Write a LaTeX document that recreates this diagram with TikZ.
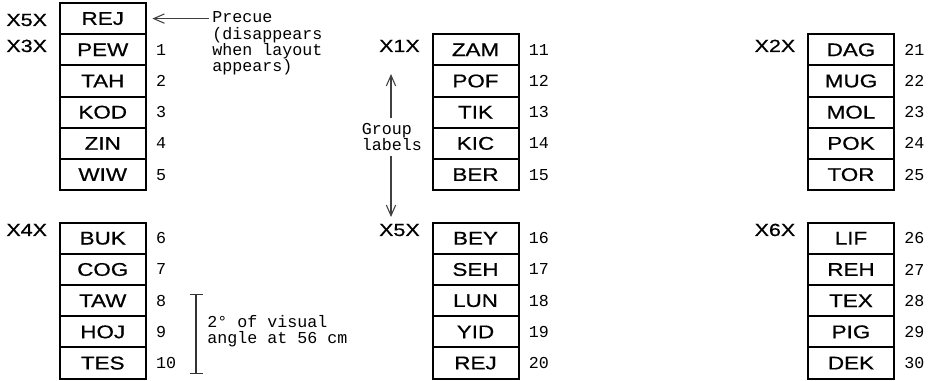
\documentclass[tikz,border=0pt]{standalone}
\usepackage{fontspec}
\setmainfont{Liberation Sans}
\newfontfamily\wordfont[FakeStretch=1.22, FakeBold=0.6]{Liberation Sans}
\newfontfamily\notefont{Liberation Mono}
\usetikzlibrary{arrows.meta, positioning}
\tikzset{
  wordcell/.style={
    rectangle, draw=black, line width=1.5pt, minimum width=64.5pt,
    minimum height=23.4pt, inner sep=0pt, outer sep=0pt,
    font=\wordfont\fontsize{13.8pt}{16pt}\selectfont
  },
  itemnum/.style={inner sep=0pt, font=\notefont\fontsize{12.5pt}{12pt}\selectfont},
  grplbl/.style={inner sep=0pt, font=\wordfont\fontsize{13.2pt}{15pt}\selectfont},
  notetext/.style={
    inner sep=0pt, align=left,
    font=\notefont\fontsize{12.5pt}{12.2pt}\selectfont
  },
  notearrow/.style={-{Straight Barb[length=8pt, width=7pt]}, line width=0.8pt, draw=black!75},
  scalebar/.style={{Bar[width=9.75pt]}-{Bar[width=9.75pt]}, line width=1pt, draw=black!80}
}
\begin{document}
\begin{tikzpicture}[x=0.75pt, y=-0.75pt]
  \useasboundingbox (0,0) rectangle (933,381);
  % word columns, one per group
  \foreach \col/\cx/\ctop/\first/\lbl/\lbly/\words in {
      A/102.75/34.2/1/X3X/52/{PEW,TAH,KOD,ZIN,WIW},
      B/102.75/222.7/6/X4X/236/{BUK,COG,TAW,HOJ,TES},
      C/475.5/34.2/11/X1X/52/{ZAM,POF,TIK,KIC,BER},
      D/475.5/222.7/16/X5X/236/{BEY,SEH,LUN,YID,REJ},
      E/851/34.2/21/X2X/52/{DAG,MUG,MOL,POK,TOR},
      F/851/222.7/26/X6X/236/{LIF,REH,TEX,PIG,DEK}}
  {
    \foreach \w [count=\i] in \words {
      \pgfmathtruncatemacro\n{\first+\i-1}
      \node[wordcell] (\col\i) at (\cx,{\ctop+15.6+31.2*(\i-1)}) {\w};
      \node[itemnum, right=7.5pt of \col\i] (n\n) {\n};
    }
    \node[grplbl, anchor=base east] (lbl\col) at (\cx-55.5,\lbly) {\lbl};
  }

  % precue above the first column
  \node[wordcell, above=0pt of A1] (cue) {REJ};
  \node[grplbl, anchor=base east] (lblcue) at (47.25,26) {X5X};
  \node[notetext, anchor=north west, inner xsep=2.25pt] (precue) at (209,11.5)
    {Precue\\(disappears\\when layout\\appears)};
  \draw[notearrow, shorten >=5pt] (precue.west |- cue.east) -- (cue.east);

  % group label note
  \node[notetext, inner ysep=3.75pt] (grp) at (392,136.75) {Group\\labels};
  \coordinate (grpup) at (391,74);
  \coordinate (grpdown) at (391,217);
  \draw[notearrow] (grp.north -| grpup) -- (grpup);
  \draw[notearrow] (grp.south -| grpdown) -- (grpdown);

  % scale bar
  \coordinate (bartop) at (196,294);
  \coordinate (barbot) at (196,374);
  \draw[scalebar] (bartop) -- (barbot);
  \node[notetext, anchor=west] (scalenote) at (207,331.5) {2° of visual\\angle at 56 cm};
\end{tikzpicture}
\end{document}
